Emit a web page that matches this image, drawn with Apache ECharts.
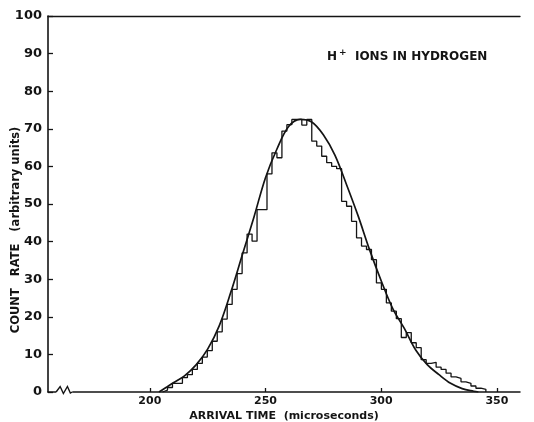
<!DOCTYPE html>
<html>
<head>
<meta charset="utf-8">
<script src="https://cdn.jsdelivr.net/npm/echarts@6/dist/echarts.min.js"></script>
<style>
  html, body { margin: 0; padding: 0; background: #ffffff; }
  #chart { width: 534px; height: 422px; }
</style>
</head>
<body>
<div id="chart"></div>
<script>
// Tick labels
const xTicks = [200, 250, 300, 350];
const yTicks = [0, 10, 20, 30, 40, 50, 60, 70, 80, 90, 100];

// Measured arrival-time histogram: channel start (µs), channel width (µs), counts per channel
const binStart = 205.5;
const binWidth = 2.15;
const counts = [
  0.5, 1.2, 2.3, 2.3, 3.8, 4.6, 6.0, 7.6, 9.3, 11.0,
  13.5, 16.0, 19.4, 23.3, 27.3, 31.5, 37.0, 42.0, 40.1, 48.5,
  48.5, 58.0, 63.6, 62.3, 69.4, 71.1, 72.5, 72.5, 71.0, 72.5,
  66.7, 65.4, 62.7, 61.0, 60.0, 59.4, 50.7, 49.4, 45.4, 41.0,
  38.8, 37.9, 35.2, 29.0, 27.3, 23.7, 21.5, 19.5, 14.5, 15.8,
  13.1, 11.8, 8.6, 7.6, 7.9, 6.6, 6.0, 5.0, 4.0, 3.6,
  2.7, 2.3, 1.6, 1.0, 0.7
];

// Calculated arrival-time distribution
const curveTime = [204, 207, 210, 215, 220, 225, 230, 235, 240, 245, 250, 255, 260, 265, 270,
                   275, 280, 285, 290, 295, 300, 305, 310, 315, 320, 325, 330, 335, 340, 342];
const curveRate = [0, 1.2, 2.4, 4.3, 7.2, 11.4, 17.6, 26.5, 36.5, 46.5, 57.0, 64.7, 70.6, 72.5, 71.8,
                   68.4, 63.0, 55.2, 46.9, 37.8, 29.6, 22.2, 16.9, 11.1, 7.2, 4.6, 2.3, 0.9, 0.2, 0];

// Break in the time axis (µs)
const axisBreak = [159.5, 166.5];

const ink = '#141414';
const font = 'DejaVu Sans, Verdana, sans-serif';

// Histogram outline as a stepped line through the channel edges
const histPoints = [[binStart, 0]];
counts.forEach((c, i) => histPoints.push([binStart + i * binWidth, c]));
histPoints.push([binStart + counts.length * binWidth, 0]);

const curvePoints = curveTime.map((t, i) => [t, curveRate[i]]);

const chart = echarts.init(document.getElementById('chart'));

const option = {
  animation: false,
  backgroundColor: '#ffffff',
  title: {
    text: '{b|H}{s|+}{b|  IONS IN HYDROGEN}',
    left: 322,
    top: 43,
    textStyle: {
      rich: {
        b: { fontFamily: font, fontSize: 12, fontWeight: 'bold', color: ink },
        s: { fontFamily: font, fontSize: 9, fontWeight: 'bold', color: ink, padding: [0, 0, 8, 2] }
      }
    }
  },
  grid: { left: 48, right: 14, top: 16, bottom: 30, containLabel: false, outerBoundsMode: 'none' },
  xAxis: [
    {
      type: 'value',
      min: 156,
      max: 360,
      name: 'ARRIVAL TIME  (microseconds)',
      nameLocation: 'middle',
      nameGap: 19,
      nameMoveOverlap: false,
      nameTextStyle: { fontFamily: font, fontSize: 11, fontWeight: 'bold', color: ink },
      axisLine: { show: true, onZero: false, lineStyle: { color: ink, width: 1.5 } },
      axisTick: { show: true, inside: true, length: 4, customValues: xTicks, lineStyle: { color: ink, width: 1.3 } },
      axisLabel: { customValues: xTicks, fontFamily: font, fontSize: 11, fontWeight: 'bold', color: ink, margin: 4 },
      splitLine: { show: false }
    },
    {
      type: 'value',
      position: 'top',
      min: 156,
      max: 360,
      axisLine: { show: true, onZero: false, lineStyle: { color: ink, width: 1.3 } },
      axisTick: { show: false },
      axisLabel: { show: false },
      splitLine: { show: false }
    }
  ],
  yAxis: {
    type: 'value',
    min: 0,
    max: 100,
    interval: 10,
    name: 'COUNT   RATE   (arbitrary units)',
    nameLocation: 'middle',
    nameGap: 26,
    nameMoveOverlap: false,
    nameTextStyle: { fontFamily: font, fontSize: 11.5, fontWeight: 'bold', color: ink, padding: [0, 52, 0, 0] },
    axisLine: { show: true, onZero: false, lineStyle: { color: ink, width: 1.6 } },
    axisTick: { show: true, inside: true, length: 5, customValues: yTicks, lineStyle: { color: ink, width: 1.3 } },
    axisLabel: { customValues: yTicks, fontFamily: font, fontSize: 13, fontWeight: 'bold', color: ink, margin: 6 },
    splitLine: { show: false }
  },
  series: [
    {
      name: 'measured',
      type: 'line',
      data: histPoints,
      step: 'end',
      symbol: 'none',
      lineStyle: { color: ink, width: 1.3 },
      z: 3
    },
    {
      name: 'calculated',
      type: 'line',
      data: curvePoints,
      smooth: 0.35,
      symbol: 'none',
      lineStyle: { color: ink, width: 1.7 },
      z: 4
    }
  ]
};

chart.setOption(option);

// Zigzag break mark on the time axis
const p0 = chart.convertToPixel({ gridIndex: 0 }, [axisBreak[0], 0]);
const p1 = chart.convertToPixel({ gridIndex: 0 }, [axisBreak[1], 0]);
const w = p1[0] - p0[0];
const y0 = p0[1];
chart.setOption({
  graphic: [
    {
      type: 'rect',
      shape: { x: p0[0], y: y0 - 2, width: w, height: 4 },
      style: { fill: '#ffffff' },
      z: 10
    },
    {
      type: 'polyline',
      shape: {
        points: [
          [p0[0], y0],
          [p0[0] + w * 0.25, y0 - 5.5],
          [p0[0] + w * 0.45, y0 + 1.5],
          [p0[0] + w * 0.7, y0 - 5.5],
          [p0[0] + w * 0.88, y0 + 1],
          [p1[0], y0]
        ]
      },
      style: { stroke: ink, lineWidth: 1.4, fill: null },
      z: 11
    }
  ]
});
</script>
</body>
</html>
